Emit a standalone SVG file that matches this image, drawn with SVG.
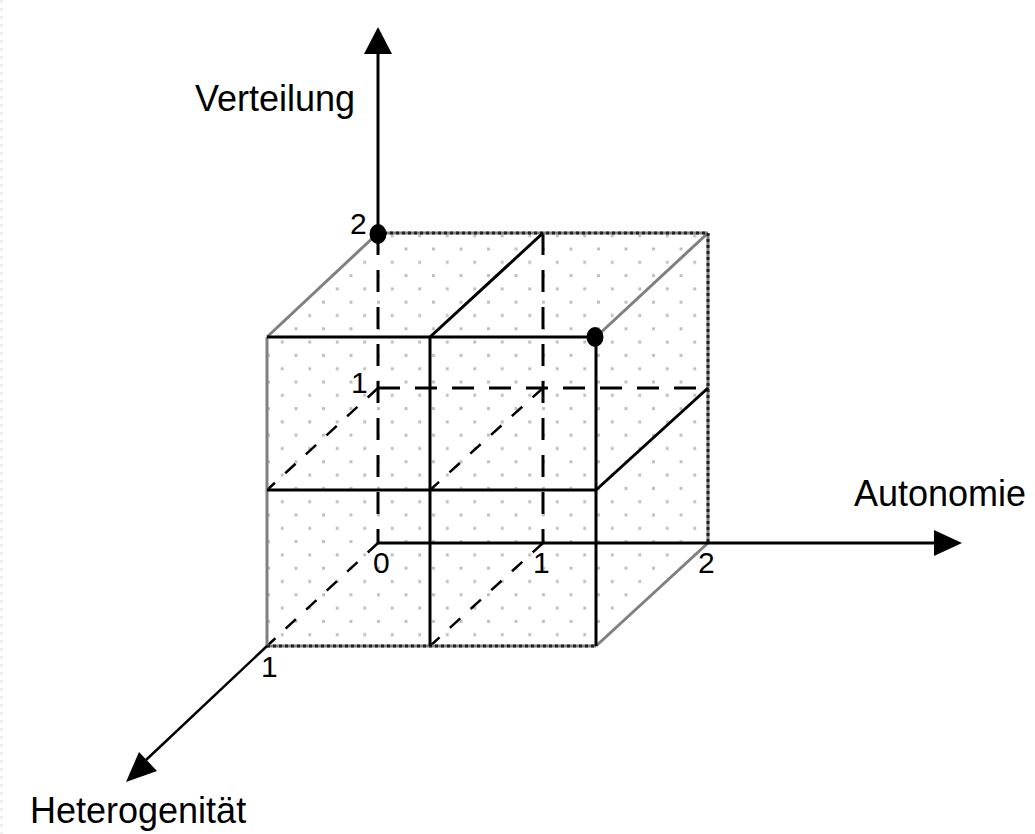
<svg xmlns="http://www.w3.org/2000/svg" width="1035" height="834" viewBox="0 0 1035 834">
<style>
.lbl{font-family:"Liberation Sans",Arial,sans-serif;font-size:36px;fill:#000}
.num{font-family:"Liberation Sans",Arial,sans-serif;font-size:30px;fill:#000}
.solid{stroke:#000;stroke-width:3;fill:none}
.dash{stroke:#000;stroke-width:3;fill:none;stroke-dasharray:22 15}
.ddash{stroke:#000;stroke-width:2.5;fill:none;stroke-dasharray:14 14}
.edge{stroke:#808080;stroke-width:3;fill:none}
.edgek{stroke:#222;stroke-width:3;fill:none;stroke-dasharray:3 3}
.ax{stroke:#000;stroke-width:2.5;fill:none}
</style>
<defs>
<pattern id="dots" patternUnits="userSpaceOnUse" x="404.5" y="247.5" width="27.5" height="26.6">
<rect x="0" y="0" width="3" height="3" fill="#c0c0c0"/>
<rect x="13.75" y="13.3" width="3" height="3" fill="#c0c0c0"/>
</pattern>
</defs>
<rect width="1035" height="834" fill="#fff"/>
<line x1="1.5" y1="0" x2="1.5" y2="834" stroke="#eeeeee" stroke-width="3" stroke-dasharray="3 5"/>
<g id="cube">
<polygon points="267,337 378,233 708,233 708,543 596,646 267,646" fill="url(#dots)"/>
</g>
<g id="connectors">
<line class="dash" x1="378" y1="233" x2="378" y2="543"/>
<line class="dash" x1="543" y1="233" x2="543" y2="543"/>
<line class="dash" x1="378" y1="388" x2="708" y2="388"/>
<line class="ddash" x1="378" y1="388" x2="267" y2="490"/>
<line class="ddash" x1="543" y1="388" x2="430" y2="490"/>
<line class="ddash" x1="378" y1="543" x2="267" y2="646"/>
<line class="ddash" x1="543" y1="543" x2="430" y2="646"/>
<line class="edge" x1="267" y1="337" x2="378" y2="233"/>
<line class="edge" x1="596" y1="337" x2="708" y2="233"/>
<line class="edge" x1="596" y1="646" x2="708" y2="543"/>
<line class="edge" x1="267" y1="337" x2="267" y2="646"/>
<line class="edge" x1="267" y1="646" x2="596" y2="646"/>
<line class="edge" x1="378" y1="233" x2="708" y2="233"/>
<line class="edge" x1="708" y1="233" x2="708" y2="543"/>
<line class="edgek" x1="378" y1="233" x2="708" y2="233"/>
<line class="edgek" x1="708" y1="233" x2="708" y2="543"/>
<line class="edgek" x1="267" y1="646" x2="596" y2="646" stroke="#444"/>
<line class="solid" x1="267" y1="337" x2="596" y2="337"/>
<line class="solid" x1="596" y1="337" x2="596" y2="646"/>
<line class="solid" x1="430" y1="337" x2="430" y2="646"/>
<line class="solid" x1="267" y1="490" x2="596" y2="490"/>
<line class="solid" x1="430" y1="337" x2="543" y2="233"/>
<line class="solid" x1="596" y1="490" x2="708" y2="388"/>
<line class="solid" x1="378" y1="233" x2="378" y2="50"/>
<polygon points="378,27 364,54 392,54" fill="#000"/>
<line class="solid" x1="378" y1="543" x2="936" y2="543"/>
<polygon points="962,543 934,530 934,556" fill="#000"/>
<line class="ax" x1="267" y1="646" x2="146" y2="760"/>
<polygon points="126,782 139,752 157,771" fill="#000"/>
</g>
<g id="points">
<ellipse cx="378" cy="234" rx="8.5" ry="10" fill="#000"/>
<ellipse cx="595" cy="337" rx="8.5" ry="10" fill="#000"/>
</g>
<g id="labels">
<text class="lbl" x="195" y="111">Verteilung</text>
<text class="lbl" x="854" y="506">Autonomie</text>
<text class="lbl" x="30" y="823">Heterogenität</text>
<text class="num" x="350" y="234">2</text>
<text class="num" x="351" y="393">1</text>
<text class="num" x="373" y="573">0</text>
<text class="num" x="533" y="573">1</text>
<text class="num" x="698" y="573">2</text>
<text class="num" x="261" y="677">1</text>
</g>
</svg>
